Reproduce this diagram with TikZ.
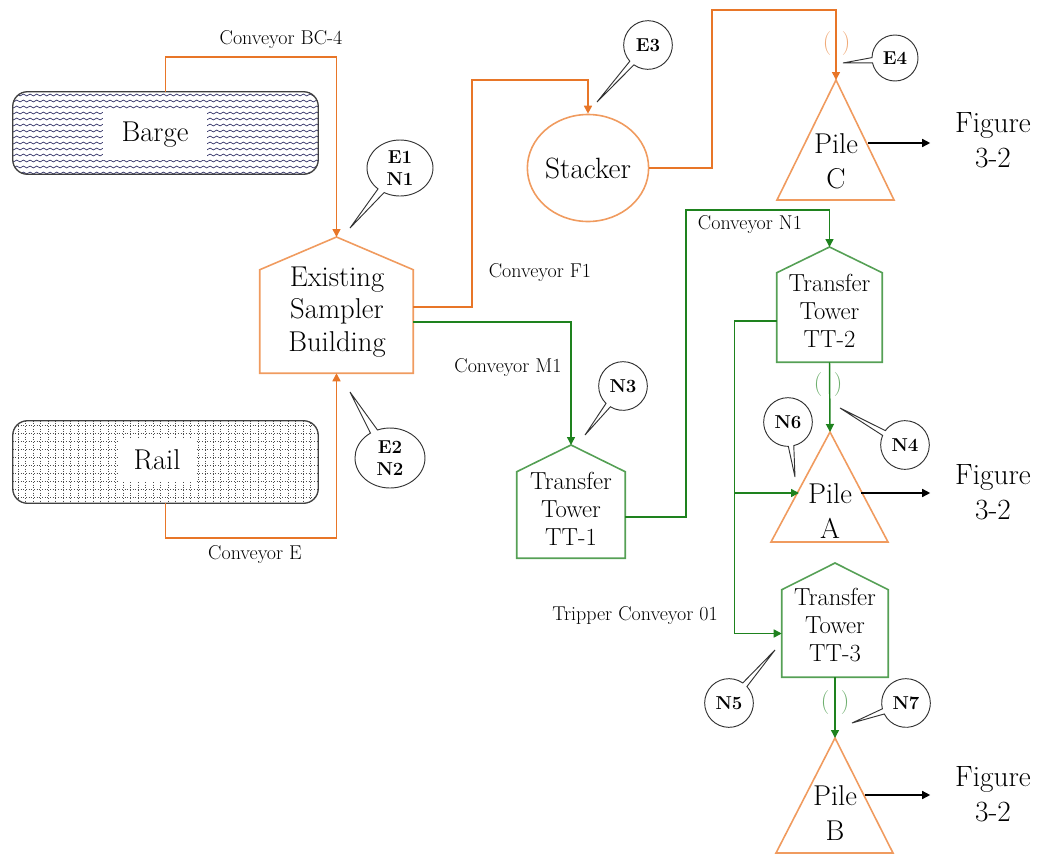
\documentclass[tikz,border=0pt]{standalone}
\usepackage{fontspec}
\usetikzlibrary{arrows.meta,shapes.geometric,shapes.callouts,calc,decorations.pathmorphing}
\definecolor{cOr}{RGB}{232,118,40}
\definecolor{cOrL}{RGB}{240,155,95}
\definecolor{cGr}{RGB}{30,130,30}
\definecolor{cGrL}{RGB}{85,160,85}
\definecolor{cNavy}{RGB}{45,45,100}
\definecolor{cParO}{RGB}{240,170,120}
\definecolor{cParG}{RGB}{110,175,110}
\begin{document}
\begin{tikzpicture}[x=0.75pt,y=-0.75pt,
  >={Triangle[length=6pt,width=6pt]},
  oline/.style={draw=cOr,line width=1.2pt},
  gline/.style={draw=cGr,line width=1.1pt},
  kline/.style={draw=black,line width=1.1pt},
  obox/.style={draw=cOrL,line width=1.2pt},
  gbox/.style={draw=cGrL,line width=1.2pt},
  bigtxt/.style={font=\fontsize{21.5}{25}\selectfont,align=center,inner sep=0pt},
  tttxt/.style={font=\fontsize{18.5}{21}\selectfont,align=center,inner sep=0pt},
  convtxt/.style={font=\fontsize{15}{18}\selectfont,inner sep=0pt},
  figtxt/.style={font=\fontsize{22}{26}\selectfont,align=center,inner xsep=18.5pt,inner ysep=0pt},
  partxt/.style={font=\fontsize{18}{18}\selectfont,inner sep=0pt},
  callout/.style={ellipse callout,draw=black!80,line width=0.7pt,fill=white,inner sep=0pt,
     font=\fontsize{14}{17}\selectfont\bfseries,align=center,callout pointer arc=13},
  circo/.style={callout,minimum width=36.5pt,minimum height=36.5pt},
  srcbox/.style={minimum width=228.75pt,minimum height=61.5pt,inner sep=0pt},
]
\useasboundingbox (0,0) rectangle (1047,857);

% ---------- Barge ----------
\node[srcbox] (barge) at (165.5,133) {};
\begin{scope}
  \clip[rounded corners=11pt] (barge.south west) rectangle (barge.north east);
  \foreach \yy in {95,101,...,175}
    \draw[cNavy,line width=0.5pt,decorate,decoration={snake,amplitude=0.7pt,segment length=5pt}] (8,\yy) -- (325,\yy);
\end{scope}
\draw[black!75,line width=1pt,rounded corners=11pt] (barge.south west) rectangle (barge.north east);
\node[bigtxt,fill=white,inner xsep=14pt,inner ysep=9pt] (bargelabel) at (155,135) {Barge};

% ---------- Rail ----------
\node[srcbox] (rail) at (165.5,462) {};
\begin{scope}
  \clip[rounded corners=11pt] (rail.south west) rectangle (rail.north east);
  \foreach \xx in {18,25.5,...,318}
    \draw[black!70,line width=0.5pt,dash pattern=on 0.7pt off 1.3pt] (\xx,418) -- (\xx,506);
  \foreach \yy in {425,433,...,505}
    \draw[black!70,line width=0.5pt,dash pattern=on 0.7pt off 1.3pt] (10,\yy) -- (322,\yy);
\end{scope}
\draw[black!75,line width=1pt,rounded corners=11pt] (rail.south west) rectangle (rail.north east);
\node[bigtxt,fill=white,inner xsep=12pt,inner ysep=9pt] (raillabel) at (157,460) {Rail};

% ---------- Existing Sampler Building ----------
\node[minimum width=114.75pt,minimum height=77.25pt,inner sep=0pt] (samp) at (336.5,321.5) {};
\coordinate (sampTop) at (336.5,237);
\draw[obox,line join=miter] (samp.south west) -- (samp.north west) -- (sampTop) -- (samp.north east) -- (samp.south east) -- cycle;
\node[bigtxt,font=\fontsize{21.5}{24.5}\selectfont] (samplabel) at (337,312) {Existing\\Sampler\\Building};

% ---------- Stacker ----------
\node[ellipse,obox,minimum width=87.75pt,minimum height=80.25pt,inner sep=0pt,font=\fontsize{22}{25}\selectfont] (stacker) at (588,168) {Stacker};

% ---------- Transfer towers ----------
\node[minimum width=81pt,minimum height=64.5pt,inner sep=0pt] (tt1) at (571,515) {};
\coordinate (tt1Top) at (571,445);
\draw[gbox] (tt1.south west) -- (tt1.north west) -- (tt1Top) -- (tt1.north east) -- (tt1.south east) -- cycle;
\node[tttxt] (tt1label) at (571,509) {Transfer\\Tower\\TT-1};

\node[minimum width=78.75pt,minimum height=66.75pt,inner sep=0pt] (tt2) at (829.5,317.5) {};
\coordinate (tt2Top) at (829.5,247);
\draw[gbox] (tt2.south west) -- (tt2.north west) -- (tt2Top) -- (tt2.north east) -- (tt2.south east) -- cycle;
\node[tttxt] (tt2label) at (829.5,311) {Transfer\\Tower\\TT-2};

\node[minimum width=79.5pt,minimum height=65.25pt,inner sep=0pt] (tt3) at (835,633.5) {};
\coordinate (tt3Top) at (835,563);
\draw[gbox] (tt3.south west) -- (tt3.north west) -- (tt3Top) -- (tt3.north east) -- (tt3.south east) -- cycle;
\node[tttxt] (tt3label) at (835,625.5) {Transfer\\Tower\\TT-3};

% ---------- Piles ----------
\coordinate (pileCtop) at (836,80);
\draw[obox] (pileCtop) -- (894,200) -- (777,200) -- cycle;
\node[bigtxt,font=\fontsize{21.5}{26}\selectfont] (pileClabel) at (836,161) {Pile\\C};

\coordinate (pileAtop) at (830,432);
\draw[obox] (pileAtop) -- (888,542) -- (771,542) -- cycle;
\node[bigtxt,font=\fontsize{21.5}{26}\selectfont] (pileAlabel) at (830,511) {Pile\\A};

\coordinate (pileBtop) at (835,738);
\draw[obox] (pileBtop) -- (893,853) -- (776,853) -- cycle;
\node[bigtxt,font=\fontsize{21.5}{26}\selectfont] (pileBlabel) at (835,813) {Pile\\B};

% ---------- Figure references ----------
\node[figtxt] (figC) at (993,140) {Figure\\3-2};
\node[figtxt] (figA) at (993,492) {Figure\\3-2};
\node[figtxt] (figB) at (993,794) {Figure\\3-2};
\coordinate (pcOut) at (868,143);
\coordinate (paOut) at (861,493);
\coordinate (pbOut) at (865,795);
\draw[kline,->] (pcOut) -- (pcOut -| figC.west);
\draw[kline,->] (paOut) -- (paOut -| figA.west);
\draw[kline,->] (pbOut) -- (pbOut -| figB.west);

% ---------- Orange conveyors ----------
\draw[oline,->] (barge.north) -- ++(0,-35) -| (sampTop);
\node[convtxt] (lblBC) at (281,40) {Conveyor BC-4};
\draw[oline,->] (rail.south) -- ++(0,35) -| (samp.south);
\node[convtxt] (lblE) at (255,555) {Conveyor E};
\coordinate (f1a) at (472,80);
\draw[oline,->] ($(samp.east)+(0,-14.5)$) -| (f1a) -| (stacker.north);
\node[convtxt] (lblF1) at (540,273) {Conveyor F1};
\coordinate (spa) at (712,10);
\draw[oline,->] (stacker.east) -| (spa) -| (pileCtop);

% ---------- Green conveyors ----------
\draw[gline,->] ($(samp.east)+(0,0.5)$) -| (tt1Top);
\node[convtxt] (lblM1) at (508,368) {Conveyor M1};
\coordinate (n1a) at (686,210);
\draw[gline,->] ($(tt1.east)+(0,2)$) -| (n1a) -| (tt2Top);
\node[convtxt] (lblN1) at (750,225) {Conveyor N1};
\draw[gline,->] (tt2.south) -- (pileAtop);
\draw[gline,->] ($(tt2.west)+(0,3.5)$) -- ++(-42,0) |- (tt3.west);
\coordinate (brA) at (735,493);
\coordinate (pileAleft) at (799,493);
\draw[gline,->] (brA) -- (pileAleft);
\node[convtxt] (lblTrip) at (635,616) {Tripper Conveyor 01};
\draw[gline,->] (tt3.south) -- (pileBtop);

% ---------- Gates ( ) ----------
\node[partxt,text=cParO] (gC1) at (827,44) {(};
\node[partxt,text=cParO] (gC2) at (846,44) {)};
\node[partxt,text=cParG] (gA1) at (818,385) {(};
\node[partxt,text=cParG] (gA2) at (838,385) {)};
\node[partxt,text=cParG] (gB1) at (825,703) {(};
\node[partxt,text=cParG] (gB2) at (845,703) {)};

% ---------- Callouts ----------
\node[callout,minimum width=49.5pt,minimum height=42pt,callout absolute pointer={(350,228)}] (cE1) at (400,168) {E1\\N1};
\node[callout,minimum width=52.5pt,minimum height=45pt,callout absolute pointer={(350,392)}] (cE2) at (390,458) {E2\\N2};
\node[circo,callout absolute pointer={(597,102)}] (cE3) at (648,45) {E3};
\node[circo,minimum width=34.5pt,minimum height=34.5pt,callout absolute pointer={(843,63)}] (cE4) at (895,58) {E4};
\node[circo,callout absolute pointer={(585,435)}] (cN3) at (623,386) {N3};
\node[circo,callout absolute pointer={(795,477)}] (cN6) at (788,422) {N6};
\node[circo,callout absolute pointer={(840,408)}] (cN4) at (905,445) {N4};
\node[circo,callout absolute pointer={(775,650)}] (cN5) at (729,703) {N5};
\node[circo,callout absolute pointer={(852,723)}] (cN7) at (906,703) {N7};
\end{tikzpicture}
\end{document}
